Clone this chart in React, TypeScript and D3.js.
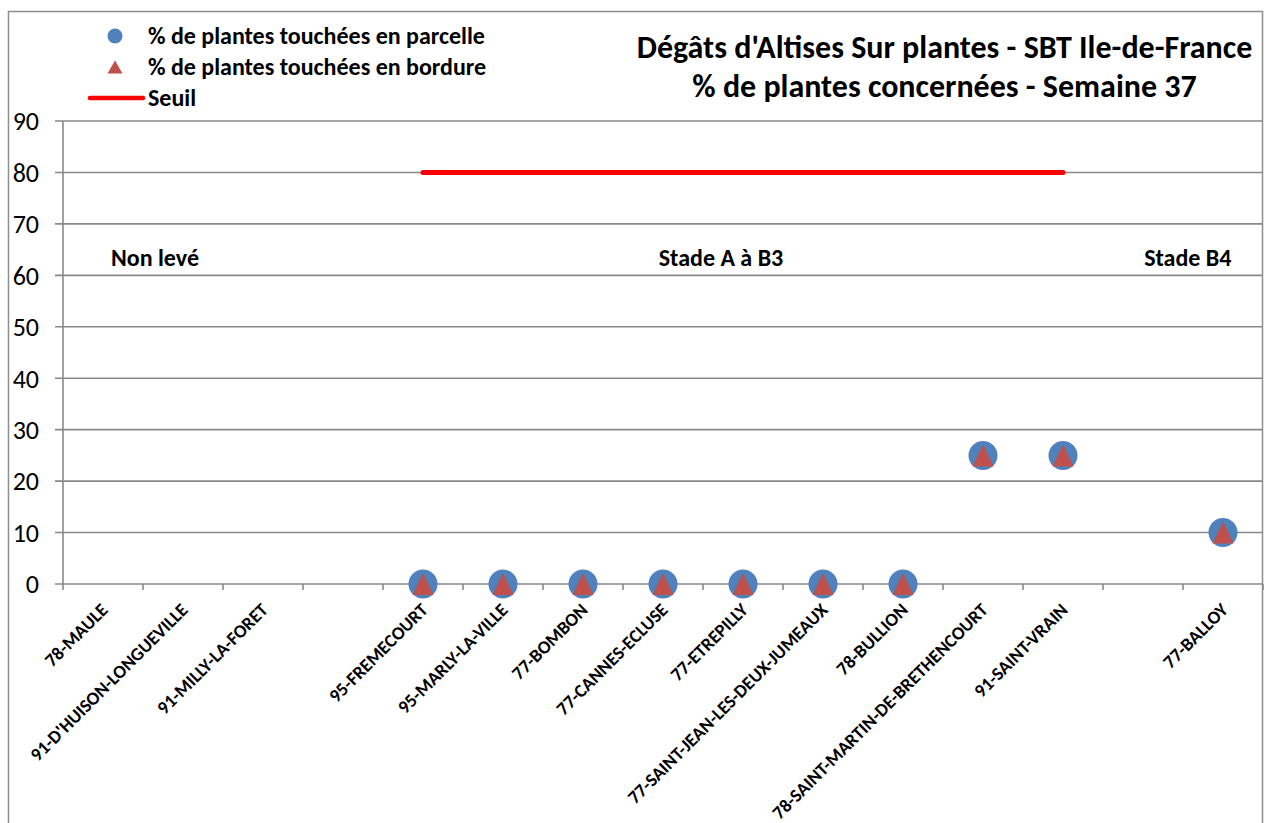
import React from "react";
import * as d3 from "d3";

const categories = [
  "78-MAULE",
  "91-D'HUISON-LONGUEVILLE",
  "91-MILLY-LA-FORET",
  "",
  "95-FREMECOURT",
  "95-MARLY-LA-VILLE",
  "77-BOMBON",
  "77-CANNES-ECLUSE",
  "77-ETREPILLY",
  "77-SAINT-JEAN-LES-DEUX-JUMEAUX",
  "78-BULLION",
  "78-SAINT-MARTIN-DE-BRETHENCOURT",
  "91-SAINT-VRAIN",
  "",
  "77-BALLOY",
];

const parcelle: (number | null)[] = [null, null, null, null, 0, 0, 0, 0, 0, 0, 0, 25, 25, null, 10];
const bordure: (number | null)[] = [null, null, null, null, 0, 0, 0, 0, 0, 0, 0, 25, 25, null, 10];
const seuil: (number | null)[] = [null, null, null, null, 80, 80, 80, 80, 80, 80, 80, 80, 80, null, null];

const yTicks = [0, 10, 20, 30, 40, 50, 60, 70, 80, 90];

const stageLabels = ["Non levé", "Stade A à B3", "Stade B4"];
const stageCenters = [1.15, 8.225, 14.06]; // in category units
const stageValue = 63.4;

const titleLines = [
  "Dégâts d'Altises Sur plantes - SBT Ile-de-France",
  "% de plantes concernées - Semaine 37",
];
const legendLabels = [
  "% de plantes touchées en parcelle",
  "% de plantes touchées en bordure",
  "Seuil",
];

const FONT = "Carlito, Lato, 'Open Sans', sans-serif";
const W = 1267;
const H = 823;
const plot = { left: 63, right: 1263, top: 121, bottom: 584 };
const gridColor = "#898989";
const blue = "#4F81BD";
const red = "#C0504D";

export default function App() {
  const idx = categories.map((_, i) => String(i));
  const x = d3.scaleBand<string>().domain(idx).range([plot.left, plot.right]).padding(0);
  const cx = (i: number) => (x(String(i)) as number) + x.bandwidth() / 2;
  const y = d3.scaleLinear().domain([0, 90]).range([plot.bottom, plot.top]);
  const xc = d3.scaleLinear().domain([0, categories.length]).range([plot.left, plot.right]);

  const seuilLine = d3
    .line<number | null>()
    .defined((d) => d !== null)
    .x((_, i) => cx(i))
    .y((d) => y(d as number));

  const tri = (px: number, py: number, w: number, h: number) =>
    `M${px},${py - h / 2}L${px + w / 2},${py + h / 2}L${px - w / 2},${py + h / 2}Z`;

  return (
    <svg
      width={W}
      height={H}
      style={{ position: "absolute", left: 0, top: 0, background: "#fff" }}
      fontFamily={FONT}
    >
      <rect x={0} y={0} width={W} height={H} fill="#fff" />
      {/* chart border */}
      <rect x={8.5} y={11.5} width={1254} height={830} fill="none" stroke="#8f8f8f" strokeWidth={1.5} />

      {/* gridlines */}
      {yTicks.map((t) => (
        <g key={t}>
          <line x1={55} x2={plot.right} y1={y(t)} y2={y(t)} stroke={gridColor} strokeWidth={1.6} />
          <text x={39} y={y(t)} dy="0.36em" textAnchor="end" fontSize={26} fill="#000">
            {t}
          </text>
        </g>
      ))}
      {/* y axis */}
      <line x1={plot.left} x2={plot.left} y1={plot.top} y2={plot.bottom} stroke={gridColor} strokeWidth={1.6} />
      {/* x ticks */}
      {d3.range(categories.length + 1).map((k) => (
        <line key={k} x1={xc(k)} x2={xc(k)} y1={plot.bottom} y2={plot.bottom + 6} stroke={gridColor} strokeWidth={1.6} />
      ))}

      {/* x labels */}
      {categories.map((c, i) => (
        <text
          key={i}
          transform={`translate(${cx(i) + 6},${plot.bottom + 27}) rotate(-45)`}
          textAnchor="end"
          fontSize={18.5}
          fontWeight="bold"
          fill="#000"
        >
          {c}
        </text>
      ))}

      {/* stage labels */}
      {stageLabels.map((s, i) => (
        <text
          key={s}
          x={xc(stageCenters[i])}
          y={y(stageValue)}
          dy="0.35em"
          textAnchor="middle"
          fontSize={24}
          fontWeight="bold"
          fill="#000"
        >
          {s}
        </text>
      ))}

      {/* seuil */}
      <path d={seuilLine(seuil) || ""} fill="none" stroke="#FF0000" strokeWidth={5} strokeLinecap="round" />

      {/* points */}
      {parcelle.map((v, i) =>
        v === null ? null : <circle key={"p" + i} cx={cx(i)} cy={y(v)} r={14.5} fill={blue} />
      )}
      {bordure.map((v, i) =>
        v === null ? null : <path key={"b" + i} d={tri(cx(i), y(v), 21, 22)} fill={red} />
      )}

      {/* legend */}
      <circle cx={115} cy={36} r={7.5} fill={blue} />
      <path d={tri(115, 67, 15, 13)} fill={red} />
      <line x1={90} x2={143} y1={98} y2={98} stroke="#FF0000" strokeWidth={4.5} strokeLinecap="round" />
      {legendLabels.map((l, i) => (
        <text key={l} x={148} y={36 + i * 31} dy="0.35em" fontSize={24} fontWeight="bold" fill="#000">
          {l}
        </text>
      ))}

      {/* title */}
      {titleLines.map((t, i) => (
        <text key={t} x={944.5} y={47 + i * 39} dy="0.35em" textAnchor="middle" fontSize={32} fontWeight="bold" fill="#000">
          {t}
        </text>
      ))}
    </svg>
  );
}
